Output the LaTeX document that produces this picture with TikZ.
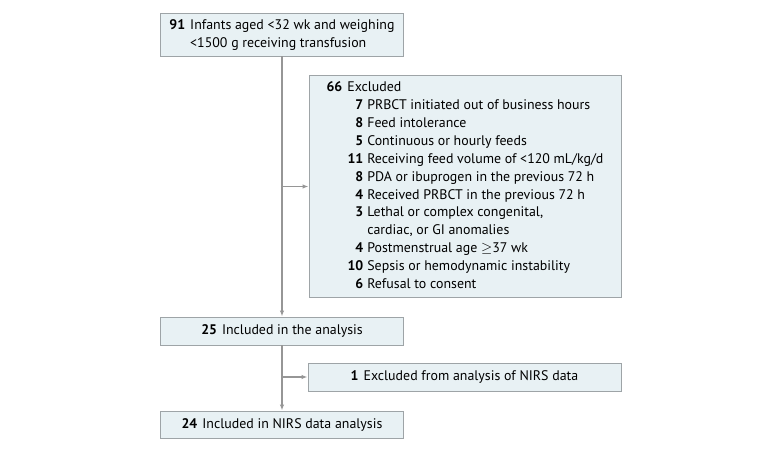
\documentclass[tikz,border=0pt]{standalone}
\usepackage{fontspec}
\setmainfont{PT Sans}
\usepackage{xcolor}
\usepackage{tikz}
\usetikzlibrary{arrows.meta,positioning}
\definecolor{boxfill}{RGB}{232,241,244}
\definecolor{boxline}{RGB}{158,164,167}
\definecolor{flowgray}{RGB}{150,150,150}

\begin{document}
\begin{tikzpicture}[x=1pt,y=-1pt,>={Latex[length=6pt,width=4.5pt]},
  box/.style={draw=boxline,fill=boxfill,line width=0.9pt,inner sep=0pt,
    font=\fontsize{13.9}{17.9}\selectfont,align=center},
  flow/.style={draw=flowgray,line width=1.2pt}]
  \useasboundingbox (0,0) rectangle (780,452);
  % boxes
  \node[box,minimum width=243,minimum height=43] (start) at (282,34.5) {%
    \begin{tabular}{@{}r@{\hspace{5pt}}l@{}}
      \textbf{91} & Infants aged <32 wk and weighing\\
                  & <1500 g receiving transfusion
    \end{tabular}};
  \node[box,minimum width=312,minimum height=222] (excl) at (465,186.5) {%
    \begin{tabular}{@{\hspace{21pt}}r@{\hspace{4pt}}l@{}}
      \multicolumn{2}{@{}l@{}}{\textbf{66}\hspace{5pt}Excluded}\\
      \textbf{7}  & PRBCT initiated out of business hours\\
      \textbf{8}  & Feed intolerance\\
      \textbf{5}  & Continuous or hourly feeds\\
      \textbf{11} & Receiving feed volume of <120 mL/kg/d\\
      \textbf{8}  & PDA or ibuprogen in the previous 72 h\\
      \textbf{4}  & Received PRBCT in the previous 72 h\\
      \textbf{3}  & Lethal or complex congenital,\\
                  & cardiac, or GI anomalies\\
      \textbf{4}  & Postmenstrual age $\geq$37 wk\\
      \textbf{10} & Sepsis or hemodynamic instability\\
      \textbf{6}  & Refusal to consent
    \end{tabular}};
  \node[box,minimum width=243,minimum height=28] (incl) at (282,331) {\textbf{25}\hspace{5pt}Included in the analysis};
  \node[box,minimum width=313,minimum height=28] (nirsex) at (464.5,377) {\textbf{1}\hspace{5pt}Excluded from analysis of NIRS data};
  \node[box,minimum width=243,minimum height=27] (nirs) at (282,424.5) {\textbf{24}\hspace{5pt}Included in NIRS data analysis};
  % connectors
  \draw[flow,->] (start.south) -- (incl.north);
  \draw[flow,->] (start.south |- excl.west) -- (excl.west);
  \draw[flow,->] (incl.south) -- (nirs.north);
  \draw[flow,->] (incl.south |- nirsex.west) -- (nirsex.west);
\end{tikzpicture}
\end{document}
